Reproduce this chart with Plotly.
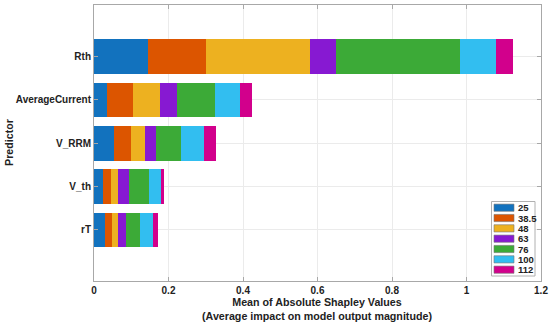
import plotly.graph_objects as go

predictors = ["rT", "V_th", "V_RRM", "AverageCurrent", "Rth"]
groups = ["25", "38.5", "48", "63", "76", "100", "112"]
# values per group, ordered as predictors list (rT, V_th, V_RRM, AverageCurrent, Rth)
vals_25 = [0.030, 0.025, 0.0535, 0.0357, 0.1446]
vals_38_5 = [0.0187, 0.0205, 0.0446, 0.068, 0.157]
vals_48 = [0.015, 0.0187, 0.040, 0.073, 0.279]
vals_63 = [0.022, 0.0286, 0.0295, 0.047, 0.068]
vals_76 = [0.039, 0.0535, 0.065, 0.101, 0.333]
vals_100 = [0.034, 0.033, 0.0616, 0.068, 0.098]
vals_112 = [0.014, 0.008, 0.032, 0.031, 0.0455]
series = [vals_25, vals_38_5, vals_48, vals_63, vals_76, vals_100, vals_112]
colors = ["#1272BE", "#DC5500", "#EDB120", "#8719D2", "#3CAA37", "#32BEF0", "#D2008C"]

W, H = 550, 325
ml, mr, mt, mb = 94, 9, 5, 44
FONT = "Liberation Sans, Arial, sans-serif"

fig = go.Figure()
for name, v, c in zip(groups, series, colors):
    fig.add_trace(go.Bar(y=predictors, x=v, orientation="h", name=name,
                         marker=dict(color=c, line=dict(width=0)), width=0.8,
                         showlegend=False))

# custom compact legend (drawn in pixel-derived paper coords)
pw, ph = W - ml - mr, H - mt - mb
def px(x): return (x - ml) / pw
def py(y): return (H - mb - y) / ph

shapes = [dict(type="rect", xref="paper", yref="paper",
               x0=px(491.5), x1=px(535), y0=py(201.5), y1=py(276),
               line=dict(color="#b0b0b0", width=1), fillcolor="white", layer="above")]
annotations = []
for i, (name, c) in enumerate(zip(groups, colors)):
    yc = 207.7 + i * 10.33
    shapes.append(dict(type="rect", xref="paper", yref="paper",
                       x0=px(494), x1=px(514), y0=py(yc - 3.6), y1=py(yc + 3.6),
                       line=dict(color="#777", width=0.6), fillcolor=c, layer="above"))
    annotations.append(dict(xref="paper", yref="paper", x=px(515.5), y=py(yc),
                            text="<b>%s</b>" % name, showarrow=False, xanchor="left",
                            yanchor="middle", font=dict(size=9.5, family=FONT, color="#222")))

# axis titles as annotations for exact placement
annotations.append(dict(xref="paper", yref="paper", x=px(317), y=py(309),
                        text="<b>Mean of Absolute Shapley Values<br>(Average impact on model output magnitude)</b>",
                        showarrow=False, xanchor="center", yanchor="middle",
                        font=dict(size=10.7, family=FONT, color="#222")))
annotations.append(dict(xref="paper", yref="paper", x=px(9), y=py(143),
                        text="<b>Predictor</b>", textangle=-90,
                        showarrow=False, xanchor="center", yanchor="middle",
                        font=dict(size=10.7, family=FONT, color="#222")))

fig.update_layout(
    barmode="stack", width=W, height=H,
    margin=dict(l=ml, r=mr, t=mt, b=mb, autoexpand=False),
    plot_bgcolor="white", paper_bgcolor="white",
    font=dict(family=FONT, size=10, color="#222"),
    shapes=shapes, annotations=annotations, bargap=0.2,
)
fig.update_xaxes(range=[0, 1.2], dtick=0.2, tickformat="~g", automargin=False,
                 showgrid=True, gridcolor="#ebebeb", gridwidth=1,
                 showline=True, linecolor="#a8a8a8", linewidth=1, mirror="ticks",
                 ticks="inside", ticklen=4, tickcolor="#a8a8a8",
                 tickfont=dict(size=10, family=FONT, color="#222", weight="bold"),
                 zeroline=False)
fig.update_yaxes(range=[-1.18, 5.19], automargin=False,
                 showgrid=True, gridcolor="#ebebeb", gridwidth=1,
                 showline=True, linecolor="#a8a8a8", linewidth=1, mirror="ticks",
                 ticks="inside", ticklen=4, tickcolor="#a8a8a8",
                 tickfont=dict(size=10, family=FONT, color="#222", weight="bold"))

fig.write_html("out.html", config={"displayModeBar": False},
               post_script="document.body.style.margin='0px';document.body.style.overflow='hidden';")
